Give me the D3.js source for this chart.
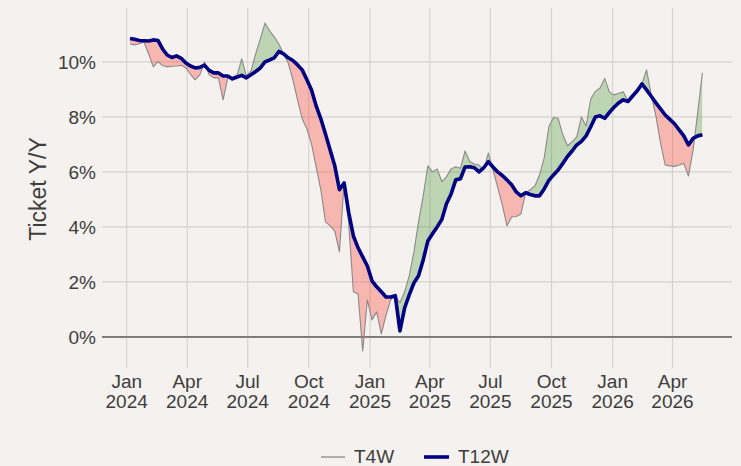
<!DOCTYPE html>
<html><head><meta charset="utf-8">
<script src="https://cdn.jsdelivr.net/npm/d3@7"></script>
<style>
html,body{margin:0;padding:0;background:#f5f1ee;}
svg{display:block;font-family:"Liberation Sans",Arial,Helvetica,sans-serif;}
</style>
</head><body>
<svg id="chart" width="741" height="466"></svg>
<script>
// ---- data (weekly, starting 2024-01-06) ----
const startDate = "2024-01-06";
const t4w = [10.65,10.62,10.66,10.72,10.29,9.82,10.01,9.87,9.82,9.84,
  9.85,9.88,9.78,9.55,9.35,9.53,10.00,9.53,9.42,9.42,
  8.62,9.42,9.45,9.51,10.11,9.49,9.67,10.29,10.84,11.41,
  11.13,10.91,10.64,10.29,9.96,9.35,8.62,7.93,7.56,7.02,
  6.18,5.35,4.18,4.04,3.85,3.09,5.60,4.10,1.64,1.56,
  -0.51,1.35,0.62,0.91,0.11,0.78,1.35,1.50,1.24,1.64,
  2.22,3.09,4.18,5.13,6.22,6.00,6.11,5.65,5.82,6.11,
  6.19,6.13,6.76,6.38,6.29,6.25,6.07,6.69,6.07,5.45,
  4.80,4.04,4.36,4.38,4.47,5.24,5.35,5.49,5.89,6.51,
  7.64,7.98,7.95,7.35,6.95,7.09,7.27,8.00,7.67,8.65,
  8.93,9.05,9.40,8.91,8.80,8.85,8.91,8.58,8.76,8.95,
  9.20,9.71,8.80,8.04,7.05,6.25,6.22,6.20,6.25,6.31,
  5.85,6.80,8.18,9.60];
const t12w = [10.85,10.82,10.78,10.77,10.76,10.80,10.78,10.47,10.25,10.16,
  10.22,10.13,9.96,9.85,9.78,9.80,9.88,9.69,9.60,9.60,
  9.49,9.49,9.38,9.45,9.51,9.42,9.53,9.65,9.78,10.00,
  10.07,10.15,10.38,10.29,10.15,10.05,9.89,9.71,9.35,8.98,
  8.40,7.93,7.38,6.80,6.22,5.35,5.60,4.51,3.67,3.24,
  2.91,2.58,2.04,1.82,1.64,1.45,1.45,1.50,0.22,1.05,
  1.53,1.96,2.22,2.80,3.49,3.75,4.00,4.27,4.84,5.20,
  5.71,5.75,6.18,6.19,6.15,6.00,6.15,6.37,6.18,6.00,
  5.87,5.71,5.53,5.27,5.13,5.24,5.18,5.13,5.13,5.38,
  5.69,5.89,6.07,6.31,6.56,6.76,6.98,7.11,7.31,7.64,
  8.00,8.04,7.95,8.16,8.35,8.51,8.62,8.56,8.76,8.95,
  9.20,8.98,8.75,8.51,8.29,8.07,7.91,7.75,7.53,7.31,
  6.98,7.22,7.31,7.35];
const xTickDates = ["2024-01-01","2024-04-01","2024-07-01","2024-10-01","2025-01-01",
  "2025-04-01","2025-07-01","2025-10-01","2026-01-01","2026-04-01"];
const xTickMonths = ["Jan","Apr","Jul","Oct","Jan","Apr","Jul","Oct","Jan","Apr"];
const xTickYears = ["2024","2024","2024","2024","2025","2025","2025","2025","2026","2026"];
const yTicks = [0,2,4,6,8,10];
const seriesNames = ["T4W","T12W"];
const yTitle = "Ticket Y/Y";

// ---- build ----
const parse = d3.utcParse("%Y-%m-%d");
const d0 = parse(startDate);
const data = t4w.map((v,i)=>({date:d3.utcDay.offset(d0, i*7), a:v, b:t12w[i]}));

const W = 741, H = 466;
const svg = d3.select("#chart");
const panel = {left:102, right:732, top:8, bottom:360};

const x = d3.scaleUtc().domain([parse("2024-01-01"), parse("2026-04-01")]).range([126.7, 672.5]);
const y = d3.scaleLinear().domain([-0.84, 11.96]).range([360, 8]);

const gridColor = "#d6d2cf", textColor = "#3d3d3d";

// gridlines
const grid = svg.append("g");
grid.selectAll("line.h").data(yTicks).join("line")
  .attr("x1", panel.left).attr("x2", panel.right)
  .attr("y1", d=>y(d)).attr("y2", d=>y(d))
  .attr("stroke", d=> d===0 ? "#7a7a7a" : gridColor)
  .attr("stroke-width", d=> d===0 ? 1.6 : 1.1);
grid.selectAll("line.v").data(xTickDates).join("line")
  .attr("x1", d=>x(parse(d))).attr("x2", d=>x(parse(d)))
  .attr("y1", panel.top).attr("y2", 368)
  .attr("stroke", gridColor).attr("stroke-width", 1.1);
// redraw zero line on top of vertical grid
svg.append("line").attr("x1", panel.left).attr("x2", panel.right)
  .attr("y1", y(0)).attr("y2", y(0)).attr("stroke", "#7a7a7a").attr("stroke-width", 1.6);

// clip paths relative to T12W
const defs = svg.append("defs");
defs.append("clipPath").attr("id","above").append("path")
  .attr("d", d3.area().x(d=>x(d.date)).y0(0).y1(d=>y(d.b))(data));
defs.append("clipPath").attr("id","below").append("path")
  .attr("d", d3.area().x(d=>x(d.date)).y0(H).y1(d=>y(d.b))(data));

const band = d3.area().x(d=>x(d.date)).y0(d=>y(d.b)).y1(d=>y(d.a));
svg.append("path").attr("d", band(data)).attr("fill","#2e8b22").attr("fill-opacity",0.28)
  .attr("clip-path","url(#above)");
svg.append("path").attr("d", band(data)).attr("fill","#ff1a0a").attr("fill-opacity",0.27)
  .attr("clip-path","url(#below)");

// lines
const lineA = d3.line().x(d=>x(d.date)).y(d=>y(d.a));
const lineB = d3.line().x(d=>x(d.date)).y(d=>y(d.b));
svg.append("path").attr("d", lineA(data)).attr("fill","none")
  .attr("stroke","#8a8a8a").attr("stroke-width",1.1).attr("stroke-linejoin","round");
svg.append("path").attr("d", lineB(data)).attr("fill","none")
  .attr("stroke","#000080").attr("stroke-width",3.6).attr("stroke-linejoin","round");

// y tick labels
svg.append("g").selectAll("text").data(yTicks).join("text")
  .attr("x", 96).attr("y", d=>y(d)).attr("dy","0.36em")
  .attr("text-anchor","end").attr("font-size",19).attr("fill",textColor)
  .text(d=>d+"%");

// x tick labels
const xl = svg.append("g");
xTickDates.forEach((d,i)=>{
  const t = xl.append("text").attr("x", x(parse(d))).attr("text-anchor","middle")
    .attr("font-size",19).attr("fill",textColor);
  t.append("tspan").attr("x", x(parse(d))).attr("y", 388).text(xTickMonths[i]);
  t.append("tspan").attr("x", x(parse(d))).attr("y", 408).text(xTickYears[i]);
});

// y title
svg.append("text").attr("transform","translate(46,189) rotate(-90)")
  .attr("text-anchor","middle").attr("font-size",23).attr("fill",textColor).text(yTitle);

// legend
const lg = svg.append("g");
lg.append("line").attr("x1",321).attr("x2",345).attr("y1",457).attr("y2",457)
  .attr("stroke","#8a8a8a").attr("stroke-width",1.3);
lg.append("text").attr("x",354).attr("y",463).attr("font-size",19).attr("fill",textColor).text(seriesNames[0]);
lg.append("line").attr("x1",424).attr("x2",449).attr("y1",457).attr("y2",457)
  .attr("stroke","#000080").attr("stroke-width",3.6);
lg.append("text").attr("x",458).attr("y",463).attr("font-size",19).attr("fill",textColor).text(seriesNames[1]);
</script>
</body></html>
